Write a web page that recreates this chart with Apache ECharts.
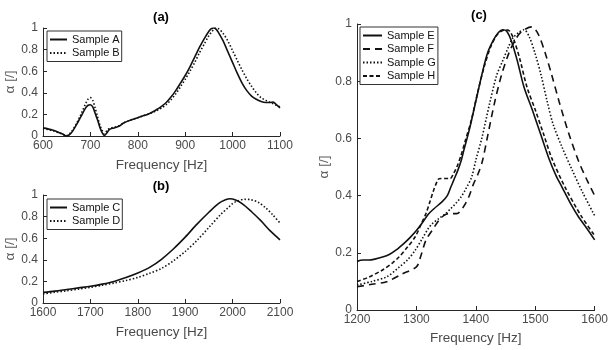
<!DOCTYPE html>
<html>
<head>
<meta charset="utf-8">
<script src="https://cdn.jsdelivr.net/npm/echarts@6/dist/echarts.min.js"></script>
<style>
html,body{margin:0;padding:0;background:#fff;}
#chart{width:611px;height:350px;}
</style>
</head>
<body>
<div id="chart"></div>
<script>
// ---- Panel (a) ----
var freqA = [600,620,640,650,660,670,680,690,695,700,705,710,715,720,725,729,735,740,750,760,770,780,790,800,810,820,830,840,850,860,870,880,890,900,910,920,930,940,950,955,960,965,970,980,990,1000,1010,1020,1030,1040,1050,1060,1070,1080,1085,1090,1100];
var sampleA = [0.075,0.055,0.02,0.0,0.03,0.1,0.18,0.26,0.285,0.29,0.27,0.21,0.15,0.08,0.03,0.005,0.03,0.06,0.075,0.09,0.12,0.14,0.155,0.17,0.185,0.2,0.22,0.245,0.275,0.31,0.36,0.42,0.49,0.56,0.64,0.73,0.82,0.9,0.97,0.995,1.0,0.99,0.96,0.88,0.78,0.68,0.58,0.49,0.42,0.37,0.34,0.32,0.31,0.31,0.315,0.3,0.26];
var freqB = [600,620,640,650,660,670,680,690,695,700,705,710,715,720,725,729,735,740,750,760,770,780,790,800,810,820,830,840,850,860,870,880,890,900,910,920,930,940,950,955,960,965,970,980,990,1000,1010,1020,1030,1040,1050,1060,1070,1080,1085,1090,1100];
var sampleB = [0.07,0.05,0.02,0.005,0.04,0.11,0.2,0.3,0.34,0.355,0.33,0.26,0.18,0.1,0.05,0.02,0.05,0.07,0.08,0.095,0.12,0.14,0.155,0.17,0.185,0.2,0.215,0.235,0.26,0.29,0.335,0.39,0.455,0.525,0.6,0.68,0.77,0.85,0.93,0.96,0.985,1.0,0.995,0.95,0.88,0.79,0.7,0.61,0.53,0.46,0.4,0.355,0.33,0.31,0.3,0.29,0.27];

// ---- Panel (b) ----
var freqC = [1600,1625,1650,1675,1700,1725,1750,1775,1800,1825,1850,1875,1900,1925,1950,1970,1985,1995,2005,2020,2040,2060,2080,2100];
var sampleC = [0.098,0.11,0.125,0.14,0.155,0.175,0.2,0.235,0.277,0.33,0.405,0.5,0.61,0.73,0.84,0.92,0.955,0.965,0.955,0.92,0.845,0.76,0.665,0.585];
var freqD = [1600,1625,1650,1675,1700,1725,1750,1775,1800,1825,1850,1875,1900,1925,1950,1975,1990,2000,2010,2025,2040,2055,2070,2085,2100];
var sampleD = [0.085,0.1,0.113,0.128,0.145,0.165,0.185,0.208,0.237,0.275,0.32,0.39,0.477,0.58,0.7,0.82,0.88,0.92,0.945,0.96,0.955,0.93,0.88,0.815,0.74];

// ---- Panel (c) ----
var freqE = [1200,1210,1220,1230,1243,1255,1266,1280,1290,1300,1310,1320,1330,1343,1352,1358,1363,1370,1375,1380,1389,1400,1411,1420,1430,1438,1445,1452,1460,1470,1481,1495,1509,1523,1535,1545,1560,1573,1587,1600];
var sampleE = [0.17,0.175,0.175,0.178,0.185,0.195,0.21,0.235,0.255,0.278,0.305,0.335,0.355,0.378,0.4,0.43,0.455,0.49,0.52,0.56,0.63,0.73,0.83,0.9,0.945,0.97,0.98,0.975,0.94,0.87,0.78,0.7,0.615,0.53,0.47,0.43,0.37,0.325,0.285,0.245];
var freqF = [1200,1225,1250,1275,1300,1307,1316,1327,1338,1346,1354,1368,1379,1388,1396,1404,1411,1420,1431,1443,1456,1468,1478,1494,1505,1517,1528,1540,1556,1573,1587,1600];
var sampleF = [0.081,0.09,0.099,0.125,0.151,0.186,0.244,0.28,0.314,0.33,0.337,0.337,0.36,0.395,0.44,0.477,0.52,0.61,0.72,0.82,0.9,0.95,0.975,0.99,0.965,0.897,0.82,0.73,0.62,0.52,0.455,0.4];
var freqG = [1200,1225,1250,1271,1285,1298,1310,1320,1327,1338,1349,1358,1366,1375,1382,1393,1400,1410,1423,1435,1445,1455,1462,1472,1481,1490,1500,1510,1520,1530,1545,1562,1580,1600];
var sampleG = [0.087,0.1,0.116,0.15,0.175,0.209,0.25,0.285,0.302,0.32,0.337,0.355,0.372,0.395,0.419,0.465,0.524,0.6,0.72,0.82,0.87,0.92,0.95,0.97,0.98,0.955,0.895,0.82,0.73,0.65,0.57,0.49,0.41,0.33];
var freqH = [1200,1220,1243,1260,1271,1285,1298,1308,1316,1323,1329,1335,1338,1350,1357,1362,1368,1375,1382,1392,1403,1414,1425,1437,1450,1457,1465,1475,1486,1500,1514,1528,1550,1577,1600];
var sampleH = [0.1,0.115,0.14,0.165,0.186,0.22,0.256,0.3,0.337,0.38,0.419,0.45,0.459,0.46,0.46,0.475,0.5,0.54,0.59,0.66,0.76,0.85,0.92,0.965,0.98,0.975,0.94,0.87,0.78,0.7,0.615,0.53,0.43,0.33,0.26];

var xTicksA = {min:600, max:1100, interval:100};
var xTicksB = {min:1600, max:2100, interval:100};
var xTicksC = {min:1200, max:1600, interval:100};
var yTicks = {min:0, max:1, interval:0.2};
var panelTitles = ['(a)','(b)','(c)'];
var xName = 'Frequency [Hz]';
var yName = 'α [/]';

function pairs(xs, ys){ return xs.map(function(x,i){ return [x, ys[i]]; }); }

var FONT = 'Liberation Sans, Arial, Helvetica, sans-serif';
var AXC = '#262626';
var LBC = '#4a4a4a';
var LINEC = '#111111';

function xAxisCfg(idx, t, gap){
  return {
    type:'value', gridIndex: idx, min:t.min, max:t.max, interval:t.interval,
    name: xName, nameLocation:'middle', nameGap: gap,
    nameTextStyle:{fontSize:13.5, color:LBC, fontFamily:FONT},
    axisLine:{show:true, onZero:false, lineStyle:{color:AXC, width:1}},
    axisTick:{show:true, inside:true, length:4, lineStyle:{color:AXC}},
    axisLabel:{fontSize:12, color:LBC, fontFamily:FONT, margin:4, formatter:function(v){ return String(v); }},
    splitLine:{show:false}
  };
}
function yAxisCfg(idx, gap){
  return {
    type:'value', gridIndex: idx, min:yTicks.min, max:yTicks.max, interval:yTicks.interval,
    name: yName, nameLocation:'middle', nameGap: gap, nameRotate:90,
    nameTextStyle:{fontSize:13.5, color:'#5a5a5a', fontFamily:FONT},
    axisLine:{show:true, onZero:false, lineStyle:{color:AXC, width:1}},
    axisTick:{show:true, inside:true, length:4, lineStyle:{color:AXC}},
    axisLabel:{fontSize:12, color:LBC, fontFamily:FONT, margin:5, formatter:function(v){ return String(Math.round(v*10)/10); }},
    splitLine:{show:false}
  };
}
function line(name, xs, ys, idx, type){
  return {
    name:name, type:'line', xAxisIndex:idx, yAxisIndex:idx,
    data: pairs(xs, ys), symbol:'none', smooth:0.3, animation:false,
    color: LINEC,
    itemStyle:{color: LINEC},
    lineStyle:{color:LINEC, width:1.6, type:type}
  };
}
function legendCfg(names, left, top, iw){
  return {
    orient:'vertical', left:left, top:top, data:names,
    itemWidth:iw, itemHeight:12, itemGap:2.5,
    padding:[3,2,3,2], borderColor:'#333', borderWidth:1, borderRadius:0,
    backgroundColor:'#fff',
    itemStyle:{opacity:0, borderWidth:0},
    textStyle:{fontSize:11, color:'#111', fontFamily:FONT},
    selectedMode:false
  };
}

var chart = echarts.init(document.getElementById('chart'), null, {renderer:'canvas'});
chart.setOption({
  animation:false,
  backgroundColor:'#fff',
  title:[
    {text:panelTitles[0], left:161, top:11, textAlign:'center', padding:0, textStyle:{fontSize:13, fontWeight:'bold', color:'#000', fontFamily:FONT}},
    {text:panelTitles[1], left:161, top:180, textAlign:'center', padding:0, textStyle:{fontSize:13, fontWeight:'bold', color:'#000', fontFamily:FONT}},
    {text:panelTitles[2], left:479, top:9, textAlign:'center', padding:0, textStyle:{fontSize:13, fontWeight:'bold', color:'#000', fontFamily:FONT}}
  ],
  grid:[
    {left:43, top:28, width:237, height:108},
    {left:43, top:195, width:237, height:108},
    {left:357, top:24, width:239, height:286}
  ],
  xAxis:[ xAxisCfg(0, xTicksA, 22), xAxisCfg(1, xTicksB, 22), xAxisCfg(2, xTicksC, 21) ],
  yAxis:[ yAxisCfg(0, 24), yAxisCfg(1, 24), yAxisCfg(2, 24) ],
  legend:[
    legendCfg(['Sample A','Sample B'], 47, 31, 17),
    legendCfg(['Sample C','Sample D'], 47, 199, 17),
    legendCfg(['Sample E','Sample F','Sample G','Sample H'], 360, 27, 19)
  ],
  series:[
    line('Sample A', freqA, sampleA, 0, 'solid'),
    line('Sample B', freqB, sampleB, 0, [1.5,2]),
    line('Sample C', freqC, sampleC, 1, 'solid'),
    line('Sample D', freqD, sampleD, 1, [1.5,2]),
    line('Sample E', freqE, sampleE, 2, 'solid'),
    line('Sample F', freqF, sampleF, 2, [7,5]),
    line('Sample G', freqG, sampleG, 2, [1.5,2]),
    line('Sample H', freqH, sampleH, 2, [4,2.5])
  ]
});
</script>
</body>
</html>
